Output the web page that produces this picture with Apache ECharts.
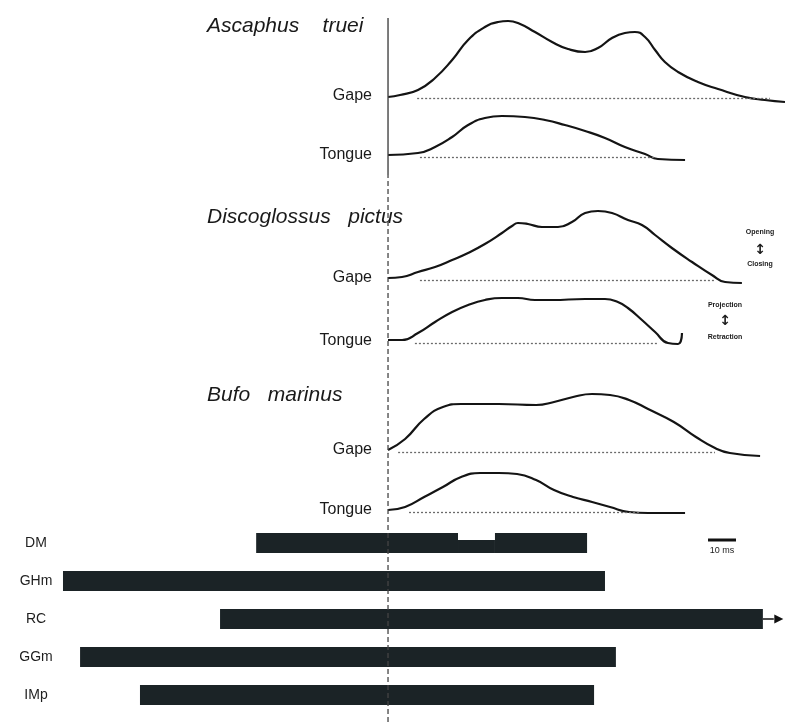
<!DOCTYPE html>
<html>
<head>
<meta charset="utf-8">
<script src="https://cdn.jsdelivr.net/npm/echarts@6/dist/echarts.min.js"></script>
<style>
html,body{margin:0;padding:0;background:#fff;}
#chart{width:785px;height:722px;}
</style>
</head>
<body>
<div id="chart"></div>
<script>
// ---- Data (time in ms relative to the onset line; amplitude in arbitrary units) ----
const ascGapeT   = [0, 4.3, 10.7, 16.8, 22.9, 28.6, 34.6, 39.3, 42.9, 46.4, 52.5, 58.6, 64.3, 70.4, 75, 80, 84.6, 88.2, 91.8, 95.4, 98.9, 103.6, 110.7, 117.9, 127.5, 134.6, 141.8];
const ascGapeA   = [1, 3, 8, 20, 38, 58, 71, 76, 77, 75, 66, 56, 49, 46, 50, 60, 65, 66, 61, 48, 36, 26, 16, 9, 1, -2, -4];
const ascTongueT = [0, 10.7, 16.8, 22.9, 28.6, 34.6, 40.7, 48.9, 56.1, 63.2, 70.4, 77.5, 84.6, 91.8, 96.4, 106.1];
const ascTongueA = [2, 4, 10, 20, 32, 39, 41, 40, 37, 32, 26, 19, 10, 3, -2, -3];

const disGapeT   = [0, 5, 10.7, 16.8, 22.9, 28.6, 34.6, 40.7, 44.3, 46.4, 50, 55, 60.7, 65.7, 70.4, 75, 80, 85.7, 90.7, 95.4, 101.4, 108.6, 115.7, 120.4, 126.4];
const disGapeA   = [2, 3, 8, 13, 20, 27, 36, 47, 54, 57, 56, 53, 53, 58, 67, 69, 67, 60, 55, 45, 32, 18, 5, -2, -3];
const disTongueT = [0, 5, 10.7, 16.8, 22.9, 28.6, 34.6, 40.7, 46.4, 52.5, 58.6, 70.4, 77.5, 82.1, 85.7, 90.7, 95.4, 100, 103.6, 105];
const disTongueA = [3, 3, 10, 21, 31, 38, 43, 45, 45, 43, 43, 44, 44, 41, 35, 23, 11, 0, -1, 10];

const bufGapeT   = [0, 6.1, 12.9, 19.6, 26.1, 39.6, 52.9, 59.3, 66.1, 72.9, 79.3, 86.1, 92.9, 102.1, 110, 116.8, 122.1, 132.9];
const bufGapeA   = [2, 13, 33, 45, 48, 48, 47, 50, 55, 58, 57, 52, 43, 30, 15, 4, -1, -4];
const bufTongueT = [0, 6.1, 12.9, 19.6, 26.1, 32.9, 39.6, 46.1, 52.9, 59.3, 66.1, 72.9, 79.3, 86.1, 92.9, 106.1];
const bufTongueA = [2, 5, 15, 25, 35, 39, 39, 38, 32, 22, 15, 10, 5, 0, -1, -1];

// dotted resting baselines [start, end] (ms)
const ascGapeRest   = [10.4, 136.4];
const ascTongueRest = [11.4, 95.4];
const disGapeRest   = [11.4, 116.8];
const disTongueRest = [9.6, 96.1];
const bufGapeRest   = [3.6, 116.8];
const bufTongueRest = [7.5, 90];

// EMG activity
const muscles   = ['DM', 'GHm', 'RC', 'GGm', 'IMp'];
const emgOnset  = [-47.1, -116.1, -60, -110, -88.6];
const emgOffset = [71.1, 77.5, 133.9, 81.4, 73.6];
const dmReduced = [25, 38.2];      // period of reduced DM activity
const dmReducedLevel = 0.65;
const rcContinues = true;

const scaleBarMs = 10;
const scaleBarStart = 114.3;

// ---- Layout ----
const tMin = -138.6, tMax = 141.8;
const traces = [
  {t: ascGapeT, a: ascGapeA, rest: ascGapeRest, base: 98, label: 'Gape'},
  {t: ascTongueT, a: ascTongueA, rest: ascTongueRest, base: 157, label: 'Tongue'},
  {t: disGapeT, a: disGapeA, rest: disGapeRest, base: 280, label: 'Gape'},
  {t: disTongueT, a: disTongueA, rest: disTongueRest, base: 343, label: 'Tongue'},
  {t: bufGapeT, a: bufGapeA, rest: bufGapeRest, base: 452, label: 'Gape'},
  {t: bufTongueT, a: bufTongueA, rest: bufTongueRest, base: 512, label: 'Tongue'}
];

const grids = [], xAxes = [], yAxes = [], series = [];
function addXAxis(gi){
  xAxes.push({gridIndex: gi, type: 'value', min: tMin, max: tMax, show: false});
}

traces.forEach((tr, i) => {
  grids.push({left: 0, right: 0, top: tr.base - 90, height: 100});
  addXAxis(i);
  yAxes.push({gridIndex: i, type: 'value', min: -10, max: 90, show: false});
  series.push({
    type: 'line', xAxisIndex: i, yAxisIndex: i,
    data: tr.t.map((t, k) => [t, tr.a[k]]),
    smooth: 0.5, symbol: 'none', silent: true,
    lineStyle: {color: '#141414', width: 2.2},
    markLine: {
      silent: true, symbol: 'none', label: {show: false},
      lineStyle: {color: '#6a6a6a', type: [2, 2], width: 1.3},
      data: [[{coord: [tr.rest[0], 0]}, {coord: [tr.rest[1], 0]}]]
    }
  });
});

// EMG bar grid
const gBar = grids.length;
grids.push({left: 0, right: 0, top: 524, height: 190});
addXAxis(gBar);
yAxes.push({
  gridIndex: gBar, type: 'category', data: muscles, inverse: true,
  axisLine: {show: false}, axisTick: {show: false}, splitLine: {show: false},
  axisLabel: {inside: true, margin: 36, align: 'center', color: '#1e1e1e',
              fontSize: 14, fontFamily: 'Liberation Sans, Arial, sans-serif'}
});
const segs = [];
muscles.forEach((m, i) => {
  if (m === 'DM') {
    segs.push([i, emgOnset[i], dmReduced[0], 1]);
    segs.push([i, dmReduced[0], dmReduced[1], dmReducedLevel]);
    segs.push([i, dmReduced[1], emgOffset[i], 1]);
  } else {
    segs.push([i, emgOnset[i], emgOffset[i], 1]);
  }
});
series.push({
  type: 'custom', xAxisIndex: gBar, yAxisIndex: gBar, silent: true,
  encode: {x: [1, 2], y: 0},
  data: segs,
  renderItem: function (params, api) {
    const c = api.value(0);
    const s = api.coord([api.value(1), c]);
    const e = api.coord([api.value(2), c]);
    const h = api.size([0, 1])[1] * 0.53;
    const lv = api.value(3);
    return {type: 'rect',
      shape: {x: s[0], y: s[1] + h / 2 - h * lv, width: e[0] - s[0], height: h * lv},
      style: {fill: '#1b2326'}};
  }
});
if (rcContinues) {
  const ri = muscles.indexOf('RC');
  series.push({
    type: 'line', xAxisIndex: gBar, yAxisIndex: gBar, silent: true,
    data: [[emgOffset[ri], ri], [tMax - 4, ri]],
    symbol: 'none', clip: false,
    lineStyle: {color: '#111', width: 1.6},
    markPoint: {
      silent: true, symbol: 'triangle', symbolSize: [9, 9], symbolRotate: -90,
      label: {show: false}, itemStyle: {color: '#111'},
      data: [{coord: [tMax - 2.2, ri]}]
    }
  });
}

// zero (onset) line: solid in the first panel, dashed below
const gZ1 = grids.length;
grids.push({left: 0, right: 0, top: 18, height: 157});
addXAxis(gZ1);
yAxes.push({gridIndex: gZ1, type: 'value', min: 0, max: 1, show: false});
series.push({type: 'line', xAxisIndex: gZ1, yAxisIndex: gZ1, data: [[0, 0], [0, 1]],
  symbol: 'none', silent: true, lineStyle: {color: '#444', width: 1.4}});
const gZ2 = grids.length;
grids.push({left: 0, right: 0, top: 175, height: 547});
addXAxis(gZ2);
yAxes.push({gridIndex: gZ2, type: 'value', min: 0, max: 1, show: false});
series.push({type: 'line', xAxisIndex: gZ2, yAxisIndex: gZ2, data: [[0, 0], [0, 1]],
  symbol: 'none', silent: true, lineStyle: {color: '#444', width: 1.3, type: [5, 3]}});

// scale bar
const gS = grids.length;
grids.push({left: 0, right: 0, top: 535, height: 10});
addXAxis(gS);
yAxes.push({gridIndex: gS, type: 'value', min: 0, max: 1, show: false});
series.push({type: 'line', xAxisIndex: gS, yAxisIndex: gS,
  data: [[scaleBarStart, 0.5], [scaleBarStart + scaleBarMs, 0.5]],
  symbol: 'none', silent: true, lineStyle: {color: '#111', width: 3}});

// ---- Text ----
const FONT = 'Liberation Sans, Arial, Helvetica, sans-serif';
const graphics = [];
function txt(x, y, s, o) {
  graphics.push({type: 'text', x: x, y: y, silent: true,
    style: Object.assign({text: s, fill: '#1a1a1a', font: '15px ' + FONT,
      textAlign: 'left', textVerticalAlign: 'middle'}, o || {})});
}
const speciesNames = ['Ascaphus    truei', 'Discoglossus   pictus', 'Bufo   marinus'];
const speciesY = [26, 217, 395];
speciesNames.forEach((n, i) => txt(207, speciesY[i], n, {font: 'italic 21px ' + FONT}));
traces.forEach(tr => txt(372, tr.base - 2, tr.label, {textAlign: 'right', font: '16px ' + FONT}));
const small = {textAlign: 'center', font: 'bold 7px ' + FONT};
txt(760, 232, 'Opening', small);
txt(760, 250, '↕', {textAlign: 'center', font: 'bold 14px DejaVu Sans'});
txt(760, 264, 'Closing', small);
txt(725, 305, 'Projection', small);
txt(725, 321, '↕', {textAlign: 'center', font: 'bold 14px DejaVu Sans'});
txt(725, 337, 'Retraction', small);
txt(722, 551, scaleBarMs + ' ms', {textAlign: 'center', font: '9px ' + FONT});

const chart = echarts.init(document.getElementById('chart'));
chart.setOption({
  backgroundColor: '#ffffff',
  animation: false,
  grid: grids,
  xAxis: xAxes,
  yAxis: yAxes,
  series: series,
  graphic: graphics
});
</script>
</body>
</html>
